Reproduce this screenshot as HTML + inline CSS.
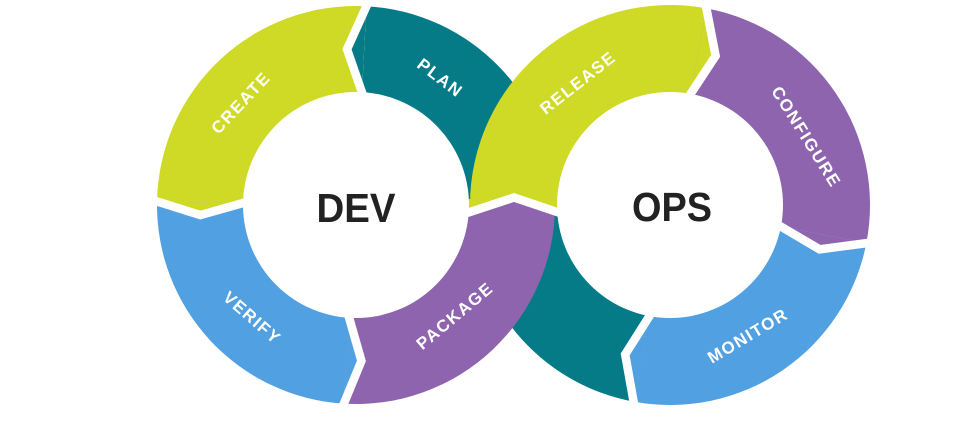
<!DOCTYPE html>
<html>
<head>
<meta charset="utf-8">
<style>
  html, body { margin: 0; padding: 0; background: #ffffff; }
  body { width: 972px; height: 436px; overflow: hidden; }
  svg { display: block; }
  .lbl { font-family: "Liberation Sans", "DejaVu Sans", sans-serif; font-weight: bold; font-size: 17px; letter-spacing: 1.5px; fill: #ffffff; }
  .big { font-family: "Liberation Sans", "DejaVu Sans", sans-serif; font-weight: bold; font-size: 41px; fill: #222222; }
</style>
</head>
<body>
<svg width="972" height="436" viewBox="0 0 972 436" xmlns="http://www.w3.org/2000/svg">
  <rect x="0" y="0" width="972" height="436" fill="#ffffff"/>

  <!-- teal band (underneath at crossing) -->
  <path d="M356,205 L366.42,6.27 A199,199 0 0 1 555,205 Z" fill="#067b88"/>
  <path d="M670,205 L633.55,401.65 A200,200 0 0 1 470,205 Z" fill="#067b88"/>

  <!-- DEV segments -->
  <path d="M356,205 L157.03,201.53 A199,199 0 0 1 366.42,6.27 Z" fill="#cfda27"/>
  <path d="M356,205 L343.85,403.63 A199,199 0 0 1 157.03,201.53 Z" fill="#51a0e1"/>
  <path d="M356,205 L555,205 A199,199 0 0 1 343.85,403.63 Z" fill="#8e64ae"/>

  <!-- OPS segments -->
  <path d="M670,205 L470,205 A200,200 0 0 1 706.45,8.35 Z" fill="#cfda27"/>
  <path d="M670,205 L706.45,8.35 A200,200 0 0 1 866.33,243.16 Z" fill="#8e64ae"/>
  <path d="M670,205 L866.33,243.16 A200,200 0 0 1 633.55,401.65 Z" fill="#51a0e1"/>

  <!-- crossing: PACKAGE -> RELEASE -->
  <rect x="466" y="199" width="94" height="13.5" fill="#cfda27"/>
  <polygon points="466,213.3 514,197.5 561,213.3" fill="#8e64ae"/>

  <!-- chevron tips -->
  <polygon points="366.42,6.27 347.02,49.26 361.91,92.15" fill="#067b88"/>
  <polygon points="157.03,201.53 200.32,215.07 243.02,203.03" fill="#cfda27"/>
  <polygon points="343.85,403.63 361.44,360.90 349.10,317.79" fill="#51a0e1"/>
  <polygon points="706.45,8.35 715.61,55.82 690.59,93.89" fill="#cfda27"/>
  <polygon points="866.33,243.16 819.58,249.31 780.92,226.56" fill="#8e64ae"/>
  <polygon points="633.55,401.65 625.17,354.42 649.41,316.11" fill="#51a0e1"/>

  <!-- white gaps -->
  <g fill="none" stroke="#ffffff" stroke-width="8.5" stroke-linejoin="miter" stroke-miterlimit="10">
    <polyline points="369.7,-1.0 347.02,49.26 364.5,99.7"/>
    <polyline points="149.4,199.1 200.32,215.07 250.7,200.9"/>
    <polyline points="340.8,411.0 361.44,360.90 346.9,310.1"/>
    <polyline points="464,214 514,197.5 563,214"/>
    <polyline points="704.9,0.5 715.61,55.82 686.2,100.6"/>
    <polyline points="874.3,242.1 819.58,249.31 774.0,222.5"/>
    <polyline points="635.0,409.5 625.17,354.42 653.7,309.3"/>
  </g>

  <!-- inner circles -->
  <circle cx="356" cy="205" r="113" fill="#ffffff"/>
  <circle cx="670" cy="205" r="113" fill="#ffffff"/>

  <!-- center labels -->
  <text class="big" x="356" y="222" text-anchor="middle" textLength="79" lengthAdjust="spacingAndGlyphs">DEV</text>
  <text class="big" x="672" y="221" text-anchor="middle" textLength="80" lengthAdjust="spacingAndGlyphs">OPS</text>

  <!-- segment labels -->
  <text class="lbl" text-anchor="middle" dominant-baseline="central" transform="translate(241,103) rotate(-47)">CREATE</text>
  <text class="lbl" text-anchor="middle" dominant-baseline="central" transform="translate(440,78) rotate(37)">PLAN</text>
  <text class="lbl" text-anchor="middle" dominant-baseline="central" transform="translate(252,318) rotate(41)">VERIFY</text>
  <text class="lbl" text-anchor="middle" dominant-baseline="central" transform="translate(455,316) rotate(-40)">PACKAGE</text>
  <text class="lbl" text-anchor="middle" dominant-baseline="central" transform="translate(578,83) rotate(-38)">RELEASE</text>
  <text class="lbl" text-anchor="middle" dominant-baseline="central" transform="translate(806,137) rotate(58)">CONFIGURE</text>
  <text class="lbl" text-anchor="middle" dominant-baseline="central" transform="translate(748,336) rotate(-31)">MONITOR</text>
</svg>
</body>
</html>
